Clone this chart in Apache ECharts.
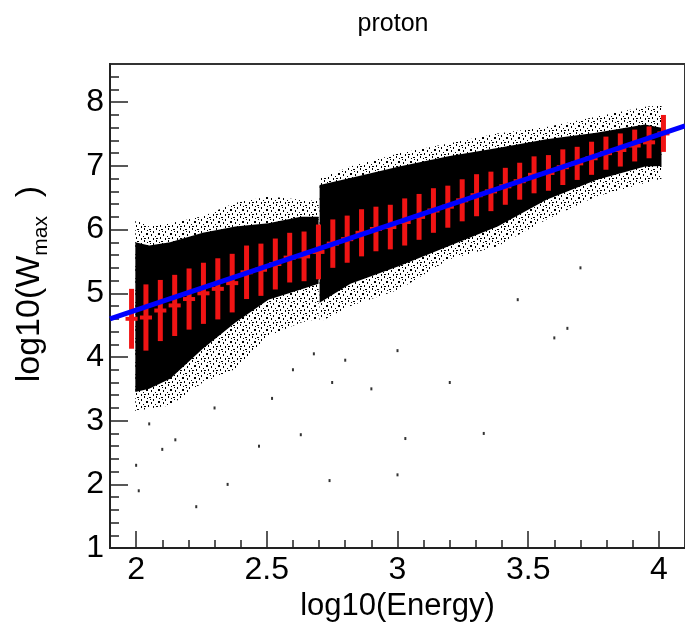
<!DOCTYPE html>
<html>
<head>
<meta charset="utf-8">
<script src="https://cdn.jsdelivr.net/npm/echarts@6/dist/echarts.min.js"></script>
<style>html,body{margin:0;padding:0;background:#fff;}#c{width:685px;height:627px;}</style>
</head>
<body>
<div id="c"></div>
<script>
// ---------- data ----------
const xTicks = [2, 2.5, 3, 3.5, 4];
const xTickLabels = ['2', '2.5', '3', '3.5', '4'];
const xMinorTicks = [2.1, 2.2, 2.3, 2.4, 2.6, 2.7, 2.8, 2.9, 3.1, 3.2, 3.3, 3.4, 3.6, 3.7, 3.8, 3.9];
const yTicks = [1, 2, 3, 4, 5, 6, 7, 8];
const yTickLabels = ['1', '2', '3', '4', '5', '6', '7', '8'];
const yMinorTicks = [1.2, 1.4, 1.6, 1.8, 2.2, 2.4, 2.6, 2.8, 3.2, 3.4, 3.6, 3.8, 4.2, 4.4, 4.6, 4.8,
  5.2, 5.4, 5.6, 5.8, 6.2, 6.4, 6.6, 6.8, 7.2, 7.4, 7.6, 7.8, 8.2, 8.4];

// profile (red) : bin centres, means, spreads
const binX = [1.9825, 2.0375, 2.0925, 2.1475, 2.2025, 2.2575, 2.3125, 2.3675, 2.4225, 2.4775,
  2.5325, 2.5875, 2.6425, 2.6975, 2.7525, 2.8075, 2.8625, 2.9175, 2.9725, 3.0275,
  3.0825, 3.1375, 3.1925, 3.2475, 3.3025, 3.3575, 3.4125, 3.4675, 3.5225, 3.5775,
  3.6325, 3.6875, 3.7425, 3.7975, 3.8525, 3.9075, 3.9625, 4.0175];
const binMean = [4.60, 4.62, 4.73, 4.81, 4.91, 5.00, 5.07, 5.16, 5.33, 5.37,
  5.46, 5.56, 5.58, 5.65, 5.78, 5.85, 5.95, 6.01, 6.04, 6.12,
  6.20, 6.30, 6.36, 6.46, 6.54, 6.60, 6.68, 6.76, 6.86, 6.89,
  6.98, 7.04, 7.12, 7.20, 7.25, 7.32, 7.37, 7.51];
const binErr = [0.47, 0.52, 0.48, 0.48, 0.48, 0.48, 0.48, 0.46, 0.42, 0.41,
  0.40, 0.39, 0.39, 0.43, 0.38, 0.37, 0.37, 0.35, 0.35, 0.37,
  0.36, 0.35, 0.33, 0.33, 0.33, 0.31, 0.29, 0.29, 0.29, 0.28,
  0.28, 0.26, 0.26, 0.26, 0.26, 0.25, 0.25, 0.29];
const binWidth = 0.055;

// linear fit (blue)
const fitX = [1.9, 4.1];
const fitY = [4.60, 7.63];

// scatter cloud envelopes, sample 1 (x < 2.7)
const cloud1X         = [1.997, 2.05, 2.13, 2.255, 2.38, 2.506, 2.63, 2.698];
const cloud1CoreTop   = [5.80, 5.75, 5.80, 5.95, 6.05, 6.10, 6.20, 6.20];
const cloud1CoreBot   = [3.45, 3.50, 3.66, 4.13, 4.54, 4.90, 5.06, 5.15];
const cloud1FringeTop = [6.15, 6.05, 6.10, 6.21, 6.42, 6.52, 6.47, 6.45];
const cloud1FringeBot = [3.15, 3.19, 3.24, 3.60, 3.81, 4.33, 4.54, 4.60];
// sample 2 (x >= 2.7)
const cloud2X         = [2.702, 2.82, 3.007, 3.195, 3.383, 3.57, 3.76, 3.947, 4.01];
const cloud2CoreTop   = [6.70, 6.81, 6.99, 7.15, 7.28, 7.42, 7.52, 7.65, 7.60];
const cloud2CoreBot   = [4.85, 5.15, 5.43, 5.74, 6.05, 6.47, 6.78, 6.99, 7.00];
const cloud2FringeTop = [6.80, 6.99, 7.20, 7.35, 7.51, 7.61, 7.77, 7.93, 7.95];
const cloud2FringeBot = [4.55, 4.80, 5.06, 5.53, 5.74, 6.16, 6.52, 6.73, 6.80];

// isolated points outside the dense cloud
const outX = [2.00, 2.01, 2.10, 2.23, 2.05, 2.15, 2.30, 2.52, 2.47, 2.63, 2.60, 2.68, 2.75, 2.80,
  2.90, 3.00, 3.00, 3.03, 3.20, 3.33, 3.46, 3.65, 3.60, 3.70, 2.74, 2.35];
const outY = [2.30, 1.90, 2.55, 1.65, 2.95, 2.70, 3.20, 3.35, 2.60, 2.78, 3.80, 4.05, 3.60, 3.95,
  3.50, 2.15, 4.10, 2.72, 3.60, 2.80, 4.90, 4.45, 4.30, 5.40, 2.06, 2.00];

// ---------- styling helpers ----------
function dotPattern(size, dots) {
  const c = document.createElement('canvas');
  c.width = size; c.height = size;
  const ctx = c.getContext('2d');
  ctx.fillStyle = '#000';
  dots.forEach(d => ctx.fillRect(d[0], d[1], d[2], d[3]));
  return c;
}
const fringePattern = dotPattern(12, [
  [0, 0, 1, 2], [5, 1, 2, 1], [9, 3, 1, 2], [2, 5, 2, 2], [7, 6, 1, 2], [11, 8, 1, 1],
  [4, 9, 1, 2], [0, 10, 2, 1], [9, 10, 1, 2], [6, 3, 1, 1], [3, 2, 1, 1]
]);

const chart = echarts.init(document.getElementById('c'), null, {renderer: 'canvas'});

const cloudSets = [
  {x: cloud1X, ct: cloud1CoreTop, cb: cloud1CoreBot, ft: cloud1FringeTop, fb: cloud1FringeBot},
  {x: cloud2X, ct: cloud2CoreTop, cb: cloud2CoreBot, ft: cloud2FringeTop, fb: cloud2FringeBot}
];

function bandPoints(api, xs, top, bot) {
  const pts = [];
  for (let i = 0; i < xs.length; i++) pts.push(api.coord([xs[i], top[i]]));
  for (let i = xs.length - 1; i >= 0; i--) pts.push(api.coord([xs[i], bot[i]]));
  return pts;
}

const axisCommon = {
  type: 'value',
  splitLine: {show: false},
  axisLine: {show: false}
};

const option = {
  animation: false,
  backgroundColor: '#fff',
  title: {
    text: 'proton',
    left: 388,
    textAlign: 'center',
    top: 7,
    textStyle: {fontFamily: 'Liberation Sans', fontWeight: 'normal', fontSize: 25, color: '#000'}
  },
  grid: {left: 106, top: 64, width: 585, height: 486, show: true, borderColor: '#333', borderWidth: 2, backgroundColor: 'transparent'},
  xAxis: [
    Object.assign({}, axisCommon, {
      min: 1.9, max: 4.1,
      axisLine: {show: true, onZero: false, lineStyle: {color: '#222', width: 2}},
      axisTick: {show: true, inside: true, length: 17, customValues: xTicks, lineStyle: {color: '#222', width: 1.5}},
      axisLabel: {show: true, customValues: xTicks, margin: 6,
        formatter: v => xTickLabels[xTicks.indexOf(v)] !== undefined ? xTickLabels[xTicks.indexOf(v)] : '',
        fontFamily: 'Liberation Sans', fontSize: 32, color: '#000'},
      name: 'log10(Energy)',
      nameLocation: 'middle',
      nameGap: 42,
      nameTextStyle: {fontFamily: 'Liberation Sans', fontSize: 31, color: '#000'}
    }),
    Object.assign({}, axisCommon, {
      min: 1.9, max: 4.1, position: 'bottom',
      axisTick: {show: true, inside: true, length: 8, customValues: xMinorTicks, lineStyle: {color: '#222', width: 1.5}},
      axisLabel: {show: false}
    })
  ],
  yAxis: [
    Object.assign({}, axisCommon, {
      min: 1, max: 8.6,
      axisLine: {show: true, onZero: false, lineStyle: {color: '#222', width: 2}},
      axisTick: {show: true, inside: true, length: 18, customValues: yTicks, lineStyle: {color: '#222', width: 1.5}},
      axisLabel: {show: true, customValues: yTicks, margin: 6,
        formatter: v => yTickLabels[yTicks.indexOf(v)] !== undefined ? yTickLabels[yTicks.indexOf(v)] : '',
        fontFamily: 'Liberation Sans', fontSize: 32, color: '#000'},
      name: '{m|log10(W}{s|max}{m|  )}',
      nameLocation: 'middle',
      nameGap: 58,
      nameTextStyle: {
        fontFamily: 'Liberation Sans', fontSize: 34, color: '#000', lineHeight: 44,
        padding: [0, 0, 0, 44],
        rich: {
          m: {fontFamily: 'Liberation Sans', fontSize: 34, lineHeight: 44, verticalAlign: 'middle', color: '#000'},
          s: {fontFamily: 'Liberation Sans', fontSize: 21, lineHeight: 21, verticalAlign: 'bottom', color: '#000'}
        }
      }
    }),
    Object.assign({}, axisCommon, {
      min: 1, max: 8.6, position: 'left',
      axisTick: {show: true, inside: true, length: 9, customValues: yMinorTicks, lineStyle: {color: '#222', width: 1.5}},
      axisLabel: {show: false}
    })
  ],
  series: [
    {
      type: 'custom',
      name: 'cloud',
      xAxisIndex: 0, yAxisIndex: 0,
      z: 1,
      silent: true,
      data: cloudSets.map((s, i) => [s.x[0], s.ct[0], i]),
      renderItem: function (params, api) {
        const s = cloudSets[api.value(2)];
        return {
          type: 'group',
          children: [
            {type: 'polygon', shape: {points: bandPoints(api, s.x, s.ft, s.fb)},
              style: {fill: {image: fringePattern, repeat: 'repeat'}, stroke: null}},
            {type: 'polygon', shape: {points: bandPoints(api, s.x, s.ct, s.cb)},
              style: {fill: '#000', stroke: null}}
          ]
        };
      }
    },
    {
      type: 'scatter',
      name: 'outliers',
      xAxisIndex: 0, yAxisIndex: 0,
      z: 2,
      symbol: 'rect',
      symbolSize: [2, 3],
      itemStyle: {color: '#000'},
      data: outX.map((x, i) => [x, outY[i]])
    },
    {
      type: 'custom',
      name: 'profile',
      xAxisIndex: 0, yAxisIndex: 0,
      z: 3,
      data: binX.map((x, i) => [x, binMean[i], binErr[i]]),
      renderItem: function (params, api) {
        const x = api.value(0), m = api.value(1), e = api.value(2);
        const top = api.coord([x, m + e]);
        const bot = api.coord([x, m - e]);
        const left = api.coord([x - binWidth * 0.42, m]);
        const right = api.coord([x + binWidth * 0.42, m]);
        const st = {stroke: '#f01414', lineWidth: 5, fill: null};
        return {
          type: 'group',
          children: [
            {type: 'line', shape: {x1: top[0], y1: top[1], x2: bot[0], y2: bot[1]}, style: st},
            {type: 'line', shape: {x1: left[0], y1: left[1], x2: right[0], y2: right[1]},
              style: {stroke: '#f01414', lineWidth: 4, fill: null}}
          ]
        };
      }
    },
    {
      type: 'line',
      name: 'fit',
      xAxisIndex: 0, yAxisIndex: 0,
      z: 4,
      symbol: 'none',
      clip: false,
      lineStyle: {color: '#0000ff', width: 5},
      data: fitX.map((x, i) => [x, fitY[i]])
    }
  ]
};
chart.setOption(option);
</script>
</body>
</html>
